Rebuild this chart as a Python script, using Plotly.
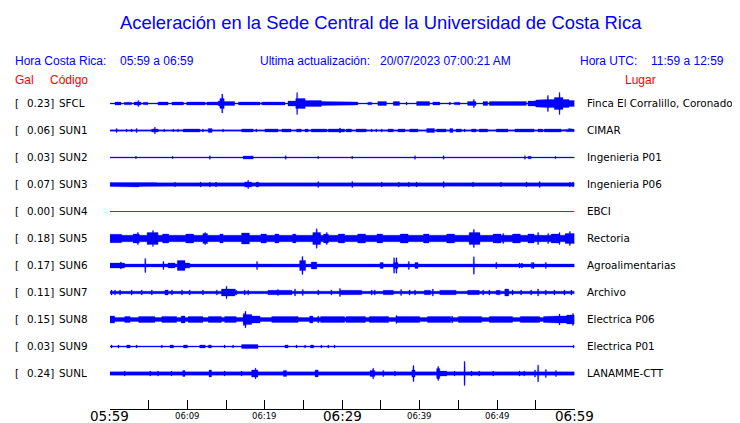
import numpy as np
import plotly.graph_objects as go

# ---------------- data ----------------
codes = ["SFCL", "SUN1", "SUN2", "SUN3", "SUN4", "SUN5", "SUN6", "SUN7", "SUN8", "SUN9", "SUNL"]
gal = [0.23, 0.06, 0.03, 0.07, 0.00, 0.18, 0.17, 0.11, 0.15, 0.03, 0.24]
places = ["Finca El Corralillo, Coronado", "CIMAR", "Ingenieria P01", "Ingenieria P06", "EBCI",
          "Rectoria", "Agroalimentarias", "Archivo", "Electrica P06", "Electrica P01", "LANAMME-CTT"]

tick_minutes = [0, 10, 20, 30, 40, 50, 60]
tick_labels = ["05:59", "06:09", "06:19", "06:29", "06:39", "06:49", "06:59"]
minor_ticks = [5, 15, 25, 35, 45, 55]

# background (noise) half-amplitude of each trace, relative units
base_amp = [0.5, 0.7, 0.5, 1.7, 0.0, 3.3, 1.5, 1.3, 2.0, 0.6, 1.7]

# bursts: (minute start, minute end, half-amplitude)
SFCL_bursts = [(0.65, 1.42, 1.5), (1.85, 2.8, 1.3), (3.1, 4.0, 1.5), (4.3, 4.9, 1.3), (6.2, 7.5, 1.5),
               (8.0, 9.5, 1.5), (9.9, 12.3, 1.5), (12.5, 14.0, 1.5), (14.0, 14.2, 2.5), (14.2, 14.75, 5),
               (14.75, 16.1, 2), (16.6, 19.4, 1.5), (19.6, 22.6, 1.5), (23.0, 24.0, 2.5), (24.0, 25.2, 5),
               (25.2, 27.3, 3), (27.3, 30.3, 2), (30.3, 32.0, 1.5), (33.3, 33.8, 1.3), (34.6, 35.7, 2),
               (36.6, 37.4, 2), (39.6, 41.3, 2), (41.7, 42.6, 1.5), (44.5, 45.2, 1.3), (46.2, 47.3, 2),
               (48.2, 48.8, 2), (49.0, 53.8, 2), (54.0, 55.0, 2.5), (55.0, 56.2, 3.5), (56.2, 57.4, 4),
               (57.4, 58.5, 6), (58.5, 59.3, 4), (59.3, 60.0, 3)]
SUN1_bursts = [(5.38, 6.24, 1.5), (9.46, 11.6, 1.5), (12.7, 13.2, 2), (16.1, 16.6, 1.3), (17.0, 18.5, 1.5),
               (20.0, 21.7, 1.5), (22.2, 23.4, 1.5), (24.1, 24.7, 1.5), (25.2, 25.6, 1.5), (26.0, 28.0, 1.5),
               (28.2, 30.3, 1.5), (30.5, 31.2, 1.5), (31.8, 33.1, 1.5), (35.9, 36.6, 1.5), (37.2, 38.1, 1.5),
               (38.7, 39.8, 1.5), (40.9, 41.9, 2), (42.2, 43.4, 1.5), (43.9, 44.3, 2), (44.7, 45.4, 1.5),
               (46.7, 47.3, 1.5), (47.7, 48.8, 1.5), (49.9, 51.4, 1.5), (52.3, 54.8, 1.5), (55.3, 55.9, 1.5),
               (56.1, 58.3, 1.5), (58.9, 60.0, 1.3)]
SUN2_bursts = [(17.2, 18.5, 1.5), (54.0, 54.4, 1.3)]
SUN3_bursts = [(0.0, 6.0, 2.0), (17.4, 18.3, 2.5), (18.9, 19.2, 2.5)]
SUN4_bursts = []
SUN5_bursts = [(0.0, 1.5, 4.2), (3.0, 3.8, 4.5), (4.8, 6.2, 6), (6.8, 7.6, 4.5), (9.8, 10.8, 4.5),
               (12.0, 12.6, 5), (14.2, 14.6, 4.5), (17.0, 18.0, 5.5), (19.5, 20.2, 4.5), (21.3, 21.8, 4.5),
               (23.6, 24.0, 4.5), (26.2, 27.2, 6), (27.6, 28.2, 4.5), (29.5, 30.3, 4.5), (32.0, 33.0, 4.5),
               (34.5, 35.2, 4.5), (37.5, 38.5, 4.5), (40.5, 41.2, 4.5), (43.5, 44.5, 4.5), (46.4, 47.8, 6),
               (49.5, 50.5, 4.5), (52.0, 53.0, 4.5), (54.0, 54.8, 4.5), (57.0, 58.0, 4.5), (58.8, 60.0, 5)]
SUN6_bursts = [(0.0, 1.9, 2.5), (2.8, 3.9, 2), (7.5, 8.4, 2.5), (8.7, 9.7, 5), (9.7, 10.3, 2.5),
               (11.4, 12.3, 2), (24.5, 25.2, 5), (26.0, 26.7, 3.5), (29.7, 30.3, 2), (30.9, 31.6, 2),
               (34.9, 35.3, 3), (36.6, 37.2, 3), (39.4, 39.8, 3)]
SUN7_bursts = [(7.1, 7.5, 2.5), (14.4, 16.2, 3.5), (20.4, 23.5, 2.2), (29.7, 32.5, 2.2), (35.3, 36.6, 2.2),
               (40.6, 41.4, 2.2), (42.6, 44.7, 2.2), (46.2, 47.7, 2.2), (49.9, 50.4, 2.2), (51.0, 51.5, 3.5)]
SUN8_bursts = [(0.0, 0.6, 3.5), (1.9, 2.6, 3), (3.7, 5.8, 3), (6.7, 8.6, 3), (9.2, 9.7, 3.5), (10.1, 12.0, 3),
               (12.7, 14.4, 3), (14.8, 16.3, 3), (17.2, 18.3, 5), (18.3, 19.4, 3.5), (20.9, 24.3, 3),
               (25.8, 26.2, 3.5), (27.2, 30.3, 3), (30.5, 33.0, 3), (33.5, 36.0, 3), (37.0, 40.0, 3),
               (41.0, 44.0, 3), (45.0, 48.0, 3), (49.0, 52.0, 3), (53.0, 55.5, 3), (56.0, 57.5, 3),
               (57.5, 59.0, 3.5), (59.0, 60.0, 4.5)]
SUN9_bursts = [(2.15, 2.6, 1.5), (7.75, 8.2, 1.5), (9.5, 10.0, 1.5), (11.6, 12.3, 1.5), (12.7, 13.1, 1.5),
               (17.0, 19.1, 2), (22.6, 23.0, 1.5), (25.9, 26.3, 1.5), (30.1, 30.5, 1.3), (33.3, 34.2, 1.3),
               (36.3, 37.2, 1.3), (38.3, 39.8, 1.3), (41.5, 43.4, 1.3), (44.5, 45.4, 1.3), (46.2, 46.7, 1.3),
               (47.3, 49.5, 1.3), (51.6, 54.2, 1.3), (55.0, 57.2, 1.3), (57.6, 59.1, 1.3)]
SUNL_bursts = [(9.4, 9.7, 3), (12.8, 13.1, 3.5), (18.3, 19.1, 3.5), (22.4, 22.8, 3), (26.5, 26.9, 3.5),
               (33.6, 34.2, 3), (39.0, 39.4, 3.5), (42.2, 42.6, 5), (42.6, 43.5, 2.5)]

# spikes: (minute, half-amplitude)
SFCL_spikes = [(3.66, 3), (14.5, 9.5), (24.17, 11), (38.3, 1.5), (43.9, 1.5), (47.0, 4), (56.56, 8), (58.07, 11)]
SUN1_spikes = [(0.86, 2), (2.15, 1.5), (2.8, 1.5), (3.44, 2), (5.8, 3.3), (7.0, 1.5), (8.17, 1.5), (8.8, 1.5),
               (12.0, 1.5), (14.6, 1.5), (18.9, 1.5), (29.7, 2.5), (33.8, 1.5), (34.4, 1.5), (35.1, 1.5),
               (45.8, 1.5), (59.3, 2), (59.7, 2)]
SUN2_spikes = [(3.35, 1.3), (8.09, 1.3), (9.89, 1), (12.9, 1.7), (22.7, 1.7), (26.9, 1.3), (27.7, 1), (28.3, 1),
               (30.8, 1), (31.3, 1.3), (35.3, 1), (36.9, 1), (39.4, 1.7), (43.1, 1.7), (44.8, 1), (46.8, 1),
               (47.4, 1), (50.8, 1), (53.6, 1.7), (55.9, 1), (56.7, 1), (57.55, 1.3), (59.4, 1)]
SUN3_spikes = [(3.66, 2.5), (8.39, 2.5), (11.7, 2.5), (12.9, 2.5), (13.7, 2.5), (17.85, 4.3), (26.9, 3),
               (31.3, 3), (35.1, 2.5), (37.3, 2.5), (38.6, 2.5), (39.6, 2.5), (43.1, 3), (46.9, 2.5),
               (50.5, 2.5), (53.8, 2.5), (55.5, 3), (59.4, 2.5), (59.8, 2.5)]
SUN4_spikes = []
SUN5_spikes = [(3.6, 6), (5.55, 8), (10.4, 5), (12.3, 6), (17.6, 6), (26.7, 9.7), (28.0, 6), (34.6, 5),
               (46.6, 5), (47.0, 9), (47.4, 6.5), (50.8, 5), (54.2, 5), (55.3, 6), (56.6, 5), (58.07, 6),
               (59.4, 7)]
SUN6_spikes = [(1.4, 3.5), (4.56, 7), (6.9, 4), (10.1, 3), (14.2, 2), (15.7, 2), (17.0, 2), (19.0, 4),
               (20.0, 2), (21.3, 2), (22.6, 2), (24.86, 9), (25.2, 5), (27.7, 2), (29.5, 2), (33.3, 2),
               (36.7, 7.7), (37.0, 7.7), (38.6, 4), (41.9, 2), (42.6, 2), (47.0, 8.7), (49.9, 3), (50.8, 2),
               (51.3, 2), (51.8, 2), (52.9, 2.5), (53.2, 2.5), (54.5, 3), (54.7, 3), (56.3, 3), (57.2, 2)]
SUN7_spikes = [(0.2, 2.5), (0.65, 2.5), (1.3, 2.5), (2.8, 2.5), (4.1, 2.5), (5.4, 2.5), (8.0, 2.5), (9.3, 2.5),
               (10.3, 2.5), (12.0, 2.5), (13.8, 2.5), (15.05, 6.3), (16.3, 2.5), (17.4, 2.5), (17.85, 2.5),
               (21.7, 3), (23.9, 3.5), (24.9, 3), (26.9, 2.5), (28.6, 2.5), (29.7, 4), (33.8, 2.5), (34.2, 2.5),
               (37.6, 3), (38.7, 2.5), (39.4, 2.5), (41.7, 3.5), (48.2, 2.5), (49.0, 2.5), (52.0, 2.5),
               (53.1, 2.5), (54.4, 2.5), (55.3, 3.5), (56.3, 2.5), (57.4, 2.5), (58.7, 2.5), (59.6, 2.5)]
SUN8_spikes = [(17.3, 6), (17.5, 8.3), (26.9, 3.5), (37.0, 4), (44.2, 3.5), (58.07, 5.5), (59.4, 5), (59.8, 6)]
SUN9_spikes = [(0.2, 1.5), (1.1, 1.5), (3.44, 1.5), (6.7, 1.5), (14.8, 1.5), (15.9, 1.5), (24.1, 1.5),
               (25.2, 1.5), (27.3, 1.5), (28.2, 1.5), (29.0, 1.5), (31.4, 1.3), (32.5, 1.3), (34.8, 1.3),
               (50.1, 1.3), (59.4, 1.3), (59.9, 1.5)]
SUNL_spikes = [(1.9, 2.5), (5.2, 2.5), (6.2, 2.5), (7.95, 2.5), (14.8, 2.5), (17.0, 2.5), (18.8, 5.3),
               (34.0, 5.3), (35.3, 3), (36.8, 2.5), (39.2, 8), (42.4, 7), (44.5, 2.5), (45.8, 12), (46.7, 2.5),
               (47.7, 2.5), (49.5, 2.5), (52.9, 2.5), (53.5, 2.5), (54.9, 3.5), (55.3, 8.3), (56.3, 4), (57.6, 3)]

bursts = [SFCL_bursts, SUN1_bursts, SUN2_bursts, SUN3_bursts, SUN4_bursts, SUN5_bursts,
          SUN6_bursts, SUN7_bursts, SUN8_bursts, SUN9_bursts, SUNL_bursts]
spikes = [SFCL_spikes, SUN1_spikes, SUN2_spikes, SUN3_spikes, SUN4_spikes, SUN5_spikes,
          SUN6_spikes, SUN7_spikes, SUN8_spikes, SUN9_spikes, SUNL_spikes]

# ---------------- layout constants ----------------
OFF = 8                      # page body margin of the html page
W, H = 740 - OFF, 423 - OFF  # figure size so that it fits the window
X0, X1 = 110, 574.5          # page-pixel extent of the time axis
AXIS_Y = 409                 # page-pixel row of the time axis
ROW0, ROW_STEP = 103.5, 27   # page-pixel centre of first trace, spacing
PAD = 2                      # annotation inner padding
BLUE = "#0000ff"
RED = "#ff0000"


def px(x, y):
    """page pixel -> paper coordinates"""
    return (x - OFF) / W, 1 - (y - OFF) / H


fig = go.Figure()

t = np.arange(0, 60.0001, 0.02)
spike_hw = 0.065
for i, code in enumerate(codes):
    c = ROW0 + i * ROW_STEP
    if code == "SUN4":
        fig.add_trace(go.Scatter(x=[0, 60], y=[c, c], mode="lines",
                                 line=dict(color=RED, width=1), hoverinfo="skip", showlegend=False))
        continue
    env = np.full_like(t, base_amp[i])
    for (a0, a1, a) in bursts[i]:
        m = (t >= a0) & (t <= a1)
        env[m] = np.maximum(env[m], a)
    for (ts, a) in spikes[i]:
        m = np.abs(t - ts) <= spike_hw
        env[m] = np.maximum(env[m], a)
    xs = np.concatenate([t, t[::-1]])
    ys = np.concatenate([c - env, (c + env)[::-1]])
    fig.add_trace(go.Scatter(x=xs, y=ys, mode="lines", fill="toself", fillcolor=BLUE,
                             line=dict(color=BLUE, width=0.3), hoverinfo="skip", showlegend=False))

annotations = []


def txt(x, y, s, size, color="black", family="DejaVu Sans", anchor="left"):
    if anchor == "left":
        x -= PAD
    xp, yp = px(x, y)
    annotations.append(dict(x=xp, y=yp, xref="paper", yref="paper", text=s, showarrow=False,
                            xanchor=anchor, yanchor="middle",
                            font=dict(size=size, color=color, family=family)))


SANS = "Liberation Sans"
HS = 12
txt(381, 22, "Aceleración en la Sede Central de la Universidad de Costa Rica", 18.4, BLUE, SANS, "center")
txt(15, 61, "Hora Costa Rica:", HS, BLUE, SANS)
txt(120, 61, "05:59 a 06:59", HS, BLUE, SANS)
txt(260, 61, "Ultima actualización:", HS, BLUE, SANS)
txt(380, 61, "20/07/2023 07:00:21 AM", HS, BLUE, SANS)
txt(580, 61, "Hora UTC:", HS, BLUE, SANS)
txt(651, 61, "11:59 a 12:59", HS, BLUE, SANS)
txt(15, 80.5, "Gal", HS, RED, SANS)
txt(50, 80.5, "Código", HS, RED, SANS)
txt(625, 80.5, "Lugar", HS, RED, SANS)

LS = 10.4
for i, code in enumerate(codes):
    c = ROW0 + i * ROW_STEP - 0.5
    txt(15, c, "[", LS)
    txt(27, c, f"{gal[i]:.2f}]", LS)
    txt(59, c, code, LS)
    txt(587, c, places[i], LS)

for m, lab in zip(tick_minutes, tick_labels):
    big = lab in ("05:59", "06:29", "06:59")
    annotations.append(dict(x=m, y=px(0, 416)[1], xref="x", yref="paper", text=lab, showarrow=False,
                            xanchor="center", yanchor="middle",
                            font=dict(size=13.5 if big else 8.5, color="black", family="DejaVu Sans")))

fig.update_layout(
    width=W, height=H, margin=dict(l=0, r=0, t=0, b=0),
    paper_bgcolor="white", plot_bgcolor="white",
    annotations=annotations,
    xaxis=dict(domain=[px(X0, 0)[0], px(X1, 0)[0]], range=[0, 60], showgrid=False, zeroline=False,
               showline=True, linecolor="black", linewidth=1,
               ticks="inside", ticklen=9, tickcolor="black", tickwidth=1,
               tickvals=sorted(tick_minutes + minor_ticks), showticklabels=False, fixedrange=True),
    yaxis=dict(domain=[px(0, AXIS_Y)[1], 1], range=[AXIS_Y, OFF], visible=False, fixedrange=True),
    showlegend=False,
)

fig.write_html("out.html")
